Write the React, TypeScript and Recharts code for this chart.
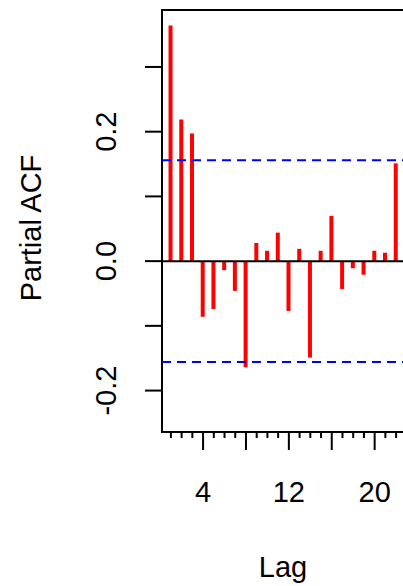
import { BarChart, Bar, XAxis, YAxis, ReferenceLine, ReferenceArea } from 'recharts'

const lags = [1, 2, 3, 4, 5, 6, 7, 8, 9, 10, 11, 12, 13, 14, 15, 16, 17, 18, 19, 20, 21, 22]
const pacfValues = [
  0.364, 0.219, 0.197, -0.086, -0.074, -0.014, -0.046, -0.164, 0.028, 0.016, 0.044,
  -0.077, 0.019, -0.149, 0.016, 0.07, -0.043, -0.011, -0.021, 0.016, 0.013, 0.151,
]
const confLimit = 0.156
const xTicks = [1, 2, 3, 4, 5, 6, 7, 8, 9, 10, 11, 12, 13, 14, 15, 16, 17, 18, 19, 20, 21, 22, 23]
const xLabels = [4, 12, 20]
const yTicks = [-0.2, -0.1, 0, 0.1, 0.2, 0.3]
const yLabels = [-0.2, 0, 0.2]

const data = lags.map((lag, i) => ({ lag, pacf: pacfValues[i] }))

const FONT = '"Liberation Sans", Arial, sans-serif'
const xDomain = [0.17, 22.83]
const yDomain = [-0.264, 0.388]

function LagTick(props: any) {
  const { x, y, payload } = props
  const v = payload.value
  const major = v % 4 === 0
  return (
    <g>
      <line x1={x} x2={x} y1={y} y2={y + (major ? 18 : 6)} stroke="#000" strokeWidth={2} />
      {xLabels.includes(v) && (
        <text x={x} y={y + 70} textAnchor="middle" fontSize={29} fontFamily={FONT} fill="#000">
          {v}
        </text>
      )}
    </g>
  )
}

function AcfTick(props: any) {
  const { x, y, payload } = props
  const v = payload.value
  const show = yLabels.some(l => Math.abs(l - v) < 1e-9)
  const tx = 116
  return (
    <g>
      <line x1={x - 17} x2={x} y1={y} y2={y} stroke="#000" strokeWidth={2} />
      {show && (
        <text x={tx} y={y} transform={`rotate(-90 ${tx} ${y})`} textAnchor="middle"
          fontSize={29} fontFamily={FONT} fill="#000">
          {v === 0 ? '0.0' : v.toFixed(1)}
        </text>
      )}
    </g>
  )
}

export default function App() {
  return (
    <div style={{ position: 'absolute', left: 0, top: 0, width: 403, height: 586, overflow: 'hidden', background: '#fff' }}>
      <BarChart width={420} height={586} data={data} margin={{ top: 10, right: 15, left: 0, bottom: 0 }}>
        <XAxis dataKey="lag" type="number" domain={xDomain} ticks={xTicks} allowDataOverflow
          axisLine={false} tickLine={false} tickSize={0} tickMargin={0} height={154}
          tick={<LagTick />} interval={0} />
        <YAxis type="number" domain={yDomain} ticks={yTicks} allowDataOverflow
          axisLine={false} tickLine={false} tickSize={0} tickMargin={0} width={162}
          tick={<AcfTick />} interval={0} />
        <ReferenceLine y={0} stroke="#000" strokeWidth={2} />
        <Bar dataKey="pacf" fill="#ff0000" barSize={4} isAnimationActive={false} />
        <ReferenceLine y={confLimit} stroke="#0000ff" strokeWidth={2} strokeDasharray="9 6" />
        <ReferenceLine y={-confLimit} stroke="#0000ff" strokeWidth={2} strokeDasharray="9 6" />
        <ReferenceArea x1={xDomain[0]} x2={xDomain[1]} y1={yDomain[0]} y2={yDomain[1]}
          fill="none" stroke="#000" strokeWidth={2} ifOverflow="visible" />
        <text x={283} y={577} textAnchor="middle" fontSize={29} fontFamily={FONT} fill="#000">Lag</text>
        <text x={41} y={228} transform="rotate(-90 41 228)" textAnchor="middle"
          fontSize={29} fontFamily={FONT} fill="#000">Partial ACF</text>
      </BarChart>
    </div>
  )
}
